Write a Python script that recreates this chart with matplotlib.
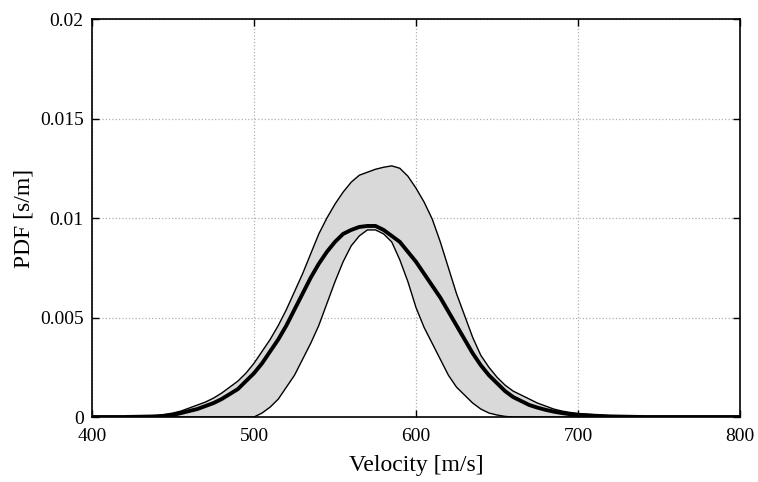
import numpy as np
import matplotlib
matplotlib.use("Agg")
import matplotlib.pyplot as plt

# velocity grid [m/s] and the three PDF curves [s/m]
velocity = [400, 420, 440, 445, 450, 455, 460, 465, 470, 475, 480, 485, 490, 495,
            500, 505, 510, 515, 520, 525, 530, 535, 540, 545, 550, 555, 560, 565,
            570, 575, 580, 585, 590, 595, 600, 605, 610, 615, 620, 625, 630, 635,
            640, 645, 650, 655, 660, 665, 670, 675, 680, 685, 690, 695, 700, 720,
            740, 760, 800]

pdf_upper = [0, 0, 0.00008, 0.00013, 0.0002, 0.0003, 0.00045, 0.0006, 0.00075, 0.00095,
             0.0012, 0.0015, 0.0018, 0.0022, 0.0027, 0.0033, 0.0039, 0.0046, 0.0054,
             0.0063, 0.0072, 0.0082, 0.0092, 0.0100, 0.0107, 0.0113, 0.0118, 0.01215,
             0.0123, 0.01245, 0.01255, 0.01262, 0.0125, 0.0121, 0.0115, 0.0108, 0.00995,
             0.0088, 0.0075, 0.0062, 0.0051, 0.0040, 0.0031, 0.0025, 0.0020, 0.0016,
             0.0013, 0.0011, 0.0009, 0.0007, 0.00055, 0.0004, 0.0003, 0.00023, 0.00018,
             0.00005, 0.00001, 0, 0]

pdf_mean = [0, 0, 0.00003, 0.00006, 0.0001, 0.0002, 0.0003, 0.0004, 0.00055, 0.0007,
            0.0009, 0.00115, 0.0014, 0.0018, 0.0022, 0.0027, 0.0033, 0.0039, 0.0046,
            0.0054, 0.0062, 0.0070, 0.0077, 0.0083, 0.0088, 0.0092, 0.0094, 0.00955,
            0.0096, 0.0096, 0.0094, 0.0091, 0.0088, 0.0083, 0.0078, 0.0072, 0.0066,
            0.0060, 0.0053, 0.0046, 0.0039, 0.0032, 0.0026, 0.0021, 0.0017, 0.0013,
            0.0010, 0.0008, 0.0006, 0.00047, 0.00036, 0.00027, 0.0002, 0.00014, 0.0001,
            0.00003, 0, 0, 0]

pdf_lower = [0, 0, 0, 0, 0, 0, 0, 0, 0, 0,
             0, 0, 0, 0, 0, 0.0002, 0.0005, 0.0009, 0.0015,
             0.0021, 0.0029, 0.0037, 0.0046, 0.0057, 0.0068, 0.0078, 0.0086, 0.0091,
             0.0094, 0.0094, 0.0092, 0.0088, 0.0079, 0.0068, 0.0055, 0.0045, 0.0037,
             0.0029, 0.0021, 0.0015, 0.0011, 0.0007, 0.0004, 0.0002, 0.0001, 0.00003,
             0, 0, 0, 0, 0, 0, 0, 0, 0,
             0, 0, 0, 0]

x_ticks = [400, 500, 600, 700, 800]
y_ticks = [0, 0.005, 0.01, 0.015, 0.02]
y_tick_labels = ["0", "0.005", "0.01", "0.015", "0.02"]

plt.rcParams["font.family"] = ["Liberation Serif", "DejaVu Serif"]
plt.rcParams["font.size"] = 14

fig = plt.figure(figsize=(7.58, 4.82), dpi=100)
ax = fig.add_axes([92 / 758, 1 - 417 / 482, 648 / 758, 398 / 482])

ax.fill_between(velocity, pdf_lower, pdf_upper, facecolor="#d9d9d9", edgecolor="none", zorder=2)
ax.plot(velocity, pdf_upper, color="black", lw=1.0, zorder=3)
ax.plot(velocity, pdf_lower, color="black", lw=1.0, zorder=3)
ax.plot(velocity, pdf_mean, color="black", lw=2.8, zorder=4)

ax.set_xlim(400, 800)
ax.set_ylim(0, 0.02)
ax.set_xticks(x_ticks)
ax.set_yticks(y_ticks)
ax.set_yticklabels(y_tick_labels)
ax.grid(True, linestyle=":", color="#b0b0b0", lw=0.9, zorder=0)
ax.set_axisbelow(True)
ax.tick_params(direction="in", length=5, width=1.0, top=True, right=True)
ax.tick_params(axis="x", pad=8)
ax.tick_params(axis="y", pad=6)
for s in ax.spines.values():
    s.set_linewidth(1.2)

ax.set_xlabel("Velocity [m/s]", fontsize=17, labelpad=7)
ax.set_ylabel("PDF [s/m]", fontsize=17, labelpad=4)

fig.savefig("out.png", dpi=100)
